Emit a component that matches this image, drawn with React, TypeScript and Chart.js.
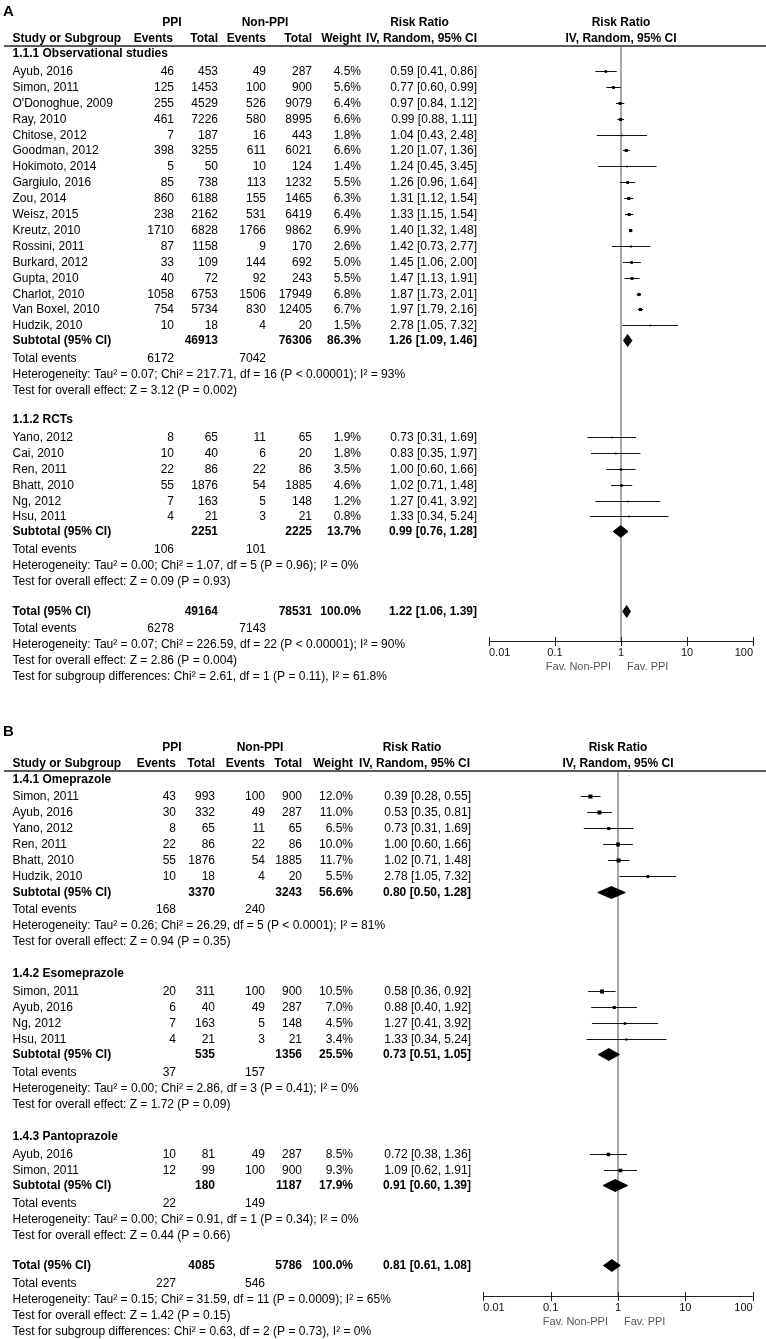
import React, { useEffect, useRef } from "react";
import { Chart, registerables } from "chart.js";
Chart.register(...registerables);

const FONT = '"Liberation Sans", Arial, Helvetica, sans-serif';

// ---------------- Panel A data ----------------
const A_OBS_HEADING = "1.1.1 Observational studies";
const A_OBS_STUDIES = [
  "Ayub, 2016", "Simon, 2011", "O'Donoghue, 2009", "Ray, 2010", "Chitose, 2012",
  "Goodman, 2012", "Hokimoto, 2014", "Gargiulo, 2016", "Zou, 2014", "Weisz, 2015",
  "Kreutz, 2010", "Rossini, 2011", "Burkard, 2012", "Gupta, 2010", "Charlot, 2010",
  "Van Boxel, 2010", "Hudzik, 2010",
];
const A_OBS_COUNTS = [
  [46, 453, 49, 287], [125, 1453, 100, 900], [255, 4529, 526, 9079], [461, 7226, 580, 8995],
  [7, 187, 16, 443], [398, 3255, 611, 6021], [5, 50, 10, 124], [85, 738, 113, 1232],
  [860, 6188, 155, 1465], [238, 2162, 531, 6419], [1710, 6828, 1766, 9862], [87, 1158, 9, 170],
  [33, 109, 144, 692], [40, 72, 92, 243], [1058, 6753, 1506, 17949], [754, 5734, 830, 12405],
  [10, 18, 4, 20],
];
const A_OBS_WEIGHTS = [4.5, 5.6, 6.4, 6.6, 1.8, 6.6, 1.4, 5.5, 6.3, 6.4, 6.9, 2.6, 5.0, 5.5, 6.8, 6.7, 1.5];
const A_OBS_RR = [
  [0.59, 0.41, 0.86], [0.77, 0.6, 0.99], [0.97, 0.84, 1.12], [0.99, 0.88, 1.11], [1.04, 0.43, 2.48],
  [1.2, 1.07, 1.36], [1.24, 0.45, 3.45], [1.26, 0.96, 1.64], [1.31, 1.12, 1.54], [1.33, 1.15, 1.54],
  [1.4, 1.32, 1.48], [1.42, 0.73, 2.77], [1.45, 1.06, 2.0], [1.47, 1.13, 1.91], [1.87, 1.73, 2.01],
  [1.97, 1.79, 2.16], [2.78, 1.05, 7.32],
];
const A_OBS_SUB_TOTALS = [46913, 76306];
const A_OBS_SUB_WEIGHT = 86.3;
const A_OBS_SUB_RR = [1.26, 1.09, 1.46];
const A_OBS_EVENTS = [6172, 7042];
const A_OBS_NOTES = [
  "Heterogeneity: Tau\u00b2 = 0.07; Chi\u00b2 = 217.71, df = 16 (P < 0.00001); I\u00b2 = 93%",
  "Test for overall effect: Z = 3.12 (P = 0.002)",
];

const A_RCT_HEADING = "1.1.2 RCTs";
const A_RCT_STUDIES = ["Yano, 2012", "Cai, 2010", "Ren, 2011", "Bhatt, 2010", "Ng, 2012", "Hsu, 2011"];
const A_RCT_COUNTS = [
  [8, 65, 11, 65], [10, 40, 6, 20], [22, 86, 22, 86], [55, 1876, 54, 1885], [7, 163, 5, 148], [4, 21, 3, 21],
];
const A_RCT_WEIGHTS = [1.9, 1.8, 3.5, 4.6, 1.2, 0.8];
const A_RCT_RR = [
  [0.73, 0.31, 1.69], [0.83, 0.35, 1.97], [1.0, 0.6, 1.66], [1.02, 0.71, 1.48], [1.27, 0.41, 3.92], [1.33, 0.34, 5.24],
];
const A_RCT_SUB_TOTALS = [2251, 2225];
const A_RCT_SUB_WEIGHT = 13.7;
const A_RCT_SUB_RR = [0.99, 0.76, 1.28];
const A_RCT_EVENTS = [106, 101];
const A_RCT_NOTES = [
  "Heterogeneity: Tau\u00b2 = 0.00; Chi\u00b2 = 1.07, df = 5 (P = 0.96); I\u00b2 = 0%",
  "Test for overall effect: Z = 0.09 (P = 0.93)",
];

const A_TOTALS = [49164, 78531];
const A_TOTAL_RR = [1.22, 1.06, 1.39];
const A_TOTAL_EVENTS = [6278, 7143];
const A_TOTAL_NOTES = [
  "Heterogeneity: Tau\u00b2 = 0.07; Chi\u00b2 = 226.59, df = 22 (P < 0.00001); I\u00b2 = 90%",
  "Test for overall effect: Z = 2.86 (P = 0.004)",
  "Test for subgroup differences: Chi\u00b2 = 2.61, df = 1 (P = 0.11), I\u00b2 = 61.8%",
];

// ---------------- Panel B data ----------------
const B_OME_HEADING = "1.4.1 Omeprazole";
const B_OME_STUDIES = ["Simon, 2011", "Ayub, 2016", "Yano, 2012", "Ren, 2011", "Bhatt, 2010", "Hudzik, 2010"];
const B_OME_COUNTS = [
  [43, 993, 100, 900], [30, 332, 49, 287], [8, 65, 11, 65], [22, 86, 22, 86], [55, 1876, 54, 1885], [10, 18, 4, 20],
];
const B_OME_WEIGHTS = [12.0, 11.0, 6.5, 10.0, 11.7, 5.5];
const B_OME_RR = [
  [0.39, 0.28, 0.55], [0.53, 0.35, 0.81], [0.73, 0.31, 1.69], [1.0, 0.6, 1.66], [1.02, 0.71, 1.48], [2.78, 1.05, 7.32],
];
const B_OME_SUB_TOTALS = [3370, 3243];
const B_OME_SUB_WEIGHT = 56.6;
const B_OME_SUB_RR = [0.8, 0.5, 1.28];
const B_OME_EVENTS = [168, 240];
const B_OME_NOTES = [
  "Heterogeneity: Tau\u00b2 = 0.26; Chi\u00b2 = 26.29, df = 5 (P < 0.0001); I\u00b2 = 81%",
  "Test for overall effect: Z = 0.94 (P = 0.35)",
];

const B_ESO_HEADING = "1.4.2 Esomeprazole";
const B_ESO_STUDIES = ["Simon, 2011", "Ayub, 2016", "Ng, 2012", "Hsu, 2011"];
const B_ESO_COUNTS = [[20, 311, 100, 900], [6, 40, 49, 287], [7, 163, 5, 148], [4, 21, 3, 21]];
const B_ESO_WEIGHTS = [10.5, 7.0, 4.5, 3.4];
const B_ESO_RR = [[0.58, 0.36, 0.92], [0.88, 0.4, 1.92], [1.27, 0.41, 3.92], [1.33, 0.34, 5.24]];
const B_ESO_SUB_TOTALS = [535, 1356];
const B_ESO_SUB_WEIGHT = 25.5;
const B_ESO_SUB_RR = [0.73, 0.51, 1.05];
const B_ESO_EVENTS = [37, 157];
const B_ESO_NOTES = [
  "Heterogeneity: Tau\u00b2 = 0.00; Chi\u00b2 = 2.86, df = 3 (P = 0.41); I\u00b2 = 0%",
  "Test for overall effect: Z = 1.72 (P = 0.09)",
];

const B_PAN_HEADING = "1.4.3 Pantoprazole";
const B_PAN_STUDIES = ["Ayub, 2016", "Simon, 2011"];
const B_PAN_COUNTS = [[10, 81, 49, 287], [12, 99, 100, 900]];
const B_PAN_WEIGHTS = [8.5, 9.3];
const B_PAN_RR = [[0.72, 0.38, 1.36], [1.09, 0.62, 1.91]];
const B_PAN_SUB_TOTALS = [180, 1187];
const B_PAN_SUB_WEIGHT = 17.9;
const B_PAN_SUB_RR = [0.91, 0.6, 1.39];
const B_PAN_EVENTS = [22, 149];
const B_PAN_NOTES = [
  "Heterogeneity: Tau\u00b2 = 0.00; Chi\u00b2 = 0.91, df = 1 (P = 0.34); I\u00b2 = 0%",
  "Test for overall effect: Z = 0.44 (P = 0.66)",
];

const B_TOTALS = [4085, 5786];
const B_TOTAL_RR = [0.81, 0.61, 1.08];
const B_TOTAL_EVENTS = [227, 546];
const B_TOTAL_NOTES = [
  "Heterogeneity: Tau\u00b2 = 0.15; Chi\u00b2 = 31.59, df = 11 (P = 0.0009); I\u00b2 = 65%",
  "Test for overall effect: Z = 1.42 (P = 0.15)",
  "Test for subgroup differences: Chi\u00b2 = 0.63, df = 2 (P = 0.73), I\u00b2 = 0%",
];

const X_TICKS = [0.01, 0.1, 1, 10, 100];
const X_TICK_LABELS = ["0.01", "0.1", "1", "10", "100"];
const FAV_LEFT = "Fav. Non-PPI";
const FAV_RIGHT = "Fav. PPI";

// ---------------- layout / config ----------------
type Group = {
  heading: string; studies: string[]; counts: number[][]; weights: number[]; rr: number[][];
  subTotals: number[]; subWeight: number; subRR: number[]; events: number[]; notes: string[];
};
type Overall = { totals: number[]; rr: number[]; events: number[]; notes: string[] };
type Cols = {
  ev1: number; tot1: number; ev2: number; tot2: number; wt: number; ci: number;
  ppiHdr: number; nonHdr: number; rrHdr: number;
  hEv1: number; hTot1: number; hEv2: number; hTot2: number; hWt: number; hCi: number;
};
type PanelCfg = {
  letter: string; height: number; groups: Group[]; overall: Overall; cols: Cols;
  pad: { left: number; right: number; top: number; bottom: number };
  yMax: number; gapGroup: number; gapTotal: number; letterSlot: number;
};

const PANEL_A: PanelCfg = {
  letter: "A",
  height: 700,
  groups: [
    { heading: A_OBS_HEADING, studies: A_OBS_STUDIES, counts: A_OBS_COUNTS, weights: A_OBS_WEIGHTS, rr: A_OBS_RR,
      subTotals: A_OBS_SUB_TOTALS, subWeight: A_OBS_SUB_WEIGHT, subRR: A_OBS_SUB_RR, events: A_OBS_EVENTS, notes: A_OBS_NOTES },
    { heading: A_RCT_HEADING, studies: A_RCT_STUDIES, counts: A_RCT_COUNTS, weights: A_RCT_WEIGHTS, rr: A_RCT_RR,
      subTotals: A_RCT_SUB_TOTALS, subWeight: A_RCT_SUB_WEIGHT, subRR: A_RCT_SUB_RR, events: A_RCT_EVENTS, notes: A_RCT_NOTES },
  ],
  overall: { totals: A_TOTALS, rr: A_TOTAL_RR, events: A_TOTAL_EVENTS, notes: A_TOTAL_NOTES },
  cols: { ev1: 174, tot1: 218, ev2: 266, tot2: 312, wt: 361, ci: 477, ppiHdr: 172, nonHdr: 265, rrHdr: 419.5,
    hEv1: 173, hTot1: 218, hEv2: 266, hTot2: 312, hWt: 361, hCi: 477 },
  pad: { left: 489, right: 13, top: 46, bottom: 59 },
  yMax: 37.42, gapGroup: 1.88, gapTotal: 1.9, letterSlot: -2.14,
};

const PANEL_B: PanelCfg = {
  letter: "B",
  height: 639,
  groups: [
    { heading: B_OME_HEADING, studies: B_OME_STUDIES, counts: B_OME_COUNTS, weights: B_OME_WEIGHTS, rr: B_OME_RR,
      subTotals: B_OME_SUB_TOTALS, subWeight: B_OME_SUB_WEIGHT, subRR: B_OME_SUB_RR, events: B_OME_EVENTS, notes: B_OME_NOTES },
    { heading: B_ESO_HEADING, studies: B_ESO_STUDIES, counts: B_ESO_COUNTS, weights: B_ESO_WEIGHTS, rr: B_ESO_RR,
      subTotals: B_ESO_SUB_TOTALS, subWeight: B_ESO_SUB_WEIGHT, subRR: B_ESO_SUB_RR, events: B_ESO_EVENTS, notes: B_ESO_NOTES },
    { heading: B_PAN_HEADING, studies: B_PAN_STUDIES, counts: B_PAN_COUNTS, weights: B_PAN_WEIGHTS, rr: B_PAN_RR,
      subTotals: B_PAN_SUB_TOTALS, subWeight: B_PAN_SUB_WEIGHT, subRR: B_PAN_SUB_RR, events: B_PAN_EVENTS, notes: B_PAN_NOTES },
  ],
  overall: { totals: B_TOTALS, rr: B_TOTAL_RR, events: B_TOTAL_EVENTS, notes: B_TOTAL_NOTES },
  cols: { ev1: 176, tot1: 215, ev2: 265, tot2: 302, wt: 353, ci: 471, ppiHdr: 172, nonHdr: 260, rrHdr: 412,
    hEv1: 176, hTot1: 215, hEv2: 265, hTot2: 302, hWt: 353, hCi: 470 },
  pad: { left: 483.3, right: 13.3, top: 71, bottom: 43 },
  yMax: 32.71, gapGroup: 2.0, gapTotal: 1.9, letterSlot: -2.45,
};

type Row = { kind: string; slot: number; [k: string]: any };

function fmtRR(r: number[]) {
  return `${r[0].toFixed(2)} [${r[1].toFixed(2)}, ${r[2].toFixed(2)}]`;
}

function layoutRows(cfg: PanelCfg): Row[] {
  const rows: Row[] = [];
  // snap each row onto a pixel centre so 1px CI lines are crisp
  const top = cfg.pad.top;
  const unit = (cfg.height - cfg.pad.bottom - cfg.pad.top) / cfg.yMax;
  const snap = (s: number) => (Math.floor(top + s * unit) + 0.5 - top) / unit;
  let s = 0.5;
  cfg.groups.forEach((g, gi) => {
    if (gi > 0) s += cfg.gapGroup;
    rows.push({ kind: "heading", slot: snap(s), text: g.heading });
    s += 1.1;
    g.studies.forEach((name, i) => {
      if (i > 0) s += 1;
      rows.push({ kind: "study", slot: snap(s), name, counts: g.counts[i], weight: g.weights[i], rr: g.rr[i] });
    });
    s += 0.94;
    rows.push({ kind: "subtotal", slot: snap(s), label: "Subtotal (95% CI)", totals: g.subTotals, weight: g.subWeight, rr: g.subRR });
    s += 1.1;
    rows.push({ kind: "events", slot: snap(s), events: g.events });
    g.notes.forEach((n) => {
      s += 1;
      rows.push({ kind: "note", slot: snap(s), text: n });
    });
  });
  s += cfg.gapTotal;
  rows.push({ kind: "subtotal", slot: snap(s), label: "Total (95% CI)", totals: cfg.overall.totals, weight: 100, rr: cfg.overall.rr });
  s += 1.1;
  rows.push({ kind: "events", slot: snap(s), events: cfg.overall.events });
  cfg.overall.notes.forEach((n) => {
    s += 1;
    rows.push({ kind: "note", slot: snap(s), text: n });
  });
  return rows;
}

function buildDatasets(rows: Row[]) {
  const ci: any[] = [];
  const pts: any[] = [];
  const radii: number[] = [];
  const datasets: any[] = [];
  rows.forEach((r) => {
    if (r.kind === "study") {
      ci.push({ x: r.rr[1], y: r.slot }, { x: r.rr[2], y: r.slot }, { x: NaN, y: NaN });
      pts.push({ x: r.rr[0], y: r.slot });
      const side = Math.max(1.7, 1.2 * Math.sqrt(r.weight));
      radii.push(side / 1.4142);
    }
  });
  datasets.push({
    data: ci, showLine: true, spanGaps: false, borderColor: "#111", borderWidth: 1,
    pointRadius: 0, fill: false, tension: 0, order: 2,
  });
  datasets.push({
    data: pts, showLine: false, pointStyle: "rect", pointRadius: radii,
    backgroundColor: "#000", borderColor: "#000", borderWidth: 0, order: 1,
  });
  const h = 0.37;
  rows.forEach((r) => {
    if (r.kind === "subtotal") {
      const [e, lo, hi] = r.rr;
      datasets.push({
        data: [
          { x: lo, y: r.slot }, { x: e, y: r.slot - h }, { x: hi, y: r.slot },
          { x: e, y: r.slot + h }, { x: lo, y: r.slot },
        ],
        showLine: true, fill: "shape", backgroundColor: "#000", borderColor: "#000",
        borderWidth: 1, pointRadius: 0, tension: 0, order: 0,
      });
    }
  });
  return datasets;
}

function makePlugins(cfg: PanelCfg, rows: Row[]) {
  const refLine = {
    id: "refLine",
    beforeDatasetsDraw(chart: any) {
      const { ctx, chartArea, scales } = chart;
      const x1 = scales.x.getPixelForValue(1);
      ctx.save();
      ctx.strokeStyle = "#8a8a8a";
      ctx.lineWidth = 1.5;
      ctx.beginPath();
      ctx.moveTo(x1, chartArea.top);
      ctx.lineTo(x1, chartArea.bottom);
      ctx.stroke();
      ctx.restore();
    },
  };
  const textPlugin = {
    id: "forestText",
    afterDraw(chart: any) {
      const { ctx, chartArea, scales } = chart;
      const Y = (s: number) => scales.y.getPixelForValue(s);
      const X = (v: number) => scales.x.getPixelForValue(v);
      const c = cfg.cols;
      ctx.save();
      ctx.textBaseline = "middle";
      const t = (str: string, px: number, py: number, align: string, bold = false, size = 12, color = "#000") => {
        ctx.font = `${bold ? "bold " : ""}${size}px ${FONT}`;
        ctx.textAlign = align;
        ctx.fillStyle = color;
        ctx.fillText(str, px, py);
      };
      // letter
      t(cfg.letter, 3, Y(cfg.letterSlot), "left", true, 15);
      // headers
      const h1 = Y(-1.47);
      const h2 = Y(-0.47);
      t("PPI", c.ppiHdr, h1, "center", true);
      t("Non-PPI", c.nonHdr, h1, "center", true);
      t("Risk Ratio", c.rrHdr, h1, "center", true);
      t("Risk Ratio", X(1), h1, "center", true);
      t("Study or Subgroup", 12.5, h2, "left", true);
      t("Events", c.hEv1, h2, "right", true);
      t("Total", c.hTot1, h2, "right", true);
      t("Events", c.hEv2, h2, "right", true);
      t("Total", c.hTot2, h2, "right", true);
      t("Weight", c.hWt, h2, "right", true);
      t("IV, Random, 95% CI", c.hCi, h2, "right", true);
      t("IV, Random, 95% CI", X(1), h2, "center", true);
      // header rule
      ctx.strokeStyle = "#5a5a5a";
      ctx.lineWidth = 2;
      ctx.beginPath();
      ctx.moveTo(4, chartArea.top);
      ctx.lineTo(chart.width, chartArea.top);
      ctx.stroke();
      // rows
      rows.forEach((r) => {
        const py = Y(r.slot);
        if (r.kind === "heading") {
          t(r.text, 12.5, py, "left", true);
        } else if (r.kind === "study") {
          t(r.name, 12.5, py, "left");
          t(String(r.counts[0]), c.ev1, py, "right");
          t(String(r.counts[1]), c.tot1, py, "right");
          t(String(r.counts[2]), c.ev2, py, "right");
          t(String(r.counts[3]), c.tot2, py, "right");
          t(`${r.weight.toFixed(1)}%`, c.wt, py, "right");
          t(fmtRR(r.rr), c.ci, py, "right");
        } else if (r.kind === "subtotal") {
          t(r.label, 12.5, py, "left", true);
          t(String(r.totals[0]), c.tot1, py, "right", true);
          t(String(r.totals[1]), c.tot2, py, "right", true);
          t(`${r.weight.toFixed(1)}%`, c.wt, py, "right", true);
          t(fmtRR(r.rr), c.ci, py, "right", true);
        } else if (r.kind === "events") {
          t("Total events", 12.5, py, "left");
          t(String(r.events[0]), c.ev1, py, "right");
          t(String(r.events[1]), c.ev2, py, "right");
        } else if (r.kind === "note") {
          t(r.text, 12.5, py, "left");
        }
      });
      // x axis
      const ay = Math.round(chartArea.bottom);
      ctx.strokeStyle = "#222";
      ctx.lineWidth = 1;
      ctx.beginPath();
      ctx.moveTo(X(X_TICKS[0]), ay + 0.5);
      ctx.lineTo(X(X_TICKS[X_TICKS.length - 1]), ay + 0.5);
      X_TICKS.forEach((v) => {
        const px = Math.round(X(v)) + 0.5;
        ctx.moveTo(px, ay - 4);
        ctx.lineTo(px, ay + 5);
      });
      ctx.stroke();
      X_TICKS.forEach((v, i) => {
        const align = i === 0 ? "left" : i === X_TICKS.length - 1 ? "right" : "center";
        t(X_TICK_LABELS[i], X(v), ay + 12, align, false, 11, "#111");
      });
      t(FAV_LEFT, X(1) - 10, ay + 26, "right", false, 11, "#555");
      t(FAV_RIGHT, X(1) + 6, ay + 26, "left", false, 11, "#555");
      ctx.restore();
    },
  };
  return [refLine, textPlugin];
}

function ForestPanel({ cfg }: { cfg: PanelCfg }) {
  const ref = useRef<HTMLCanvasElement | null>(null);
  useEffect(() => {
    if (!ref.current) return;
    const rows = layoutRows(cfg);
    const chart = new Chart(ref.current, {
      type: "scatter",
      data: { datasets: buildDatasets(rows) },
      options: {
        responsive: false,
        animation: false,
        devicePixelRatio: 1,
        events: [],
        layout: { padding: cfg.pad },
        scales: {
          x: { type: "logarithmic", min: 0.01, max: 100, display: false },
          y: { type: "linear", min: 0, max: cfg.yMax, reverse: true, display: false },
        },
        plugins: { legend: { display: false }, tooltip: { enabled: false } },
      } as any,
      plugins: makePlugins(cfg, rows) as any,
    });
    return () => chart.destroy();
  }, [cfg]);
  return (
    <canvas
      ref={ref}
      width={766}
      height={cfg.height}
      style={{ display: "block", width: 766, height: cfg.height }}
    />
  );
}

export default function App() {
  useEffect(() => {
    document.body.style.margin = "0";
    document.body.style.background = "#fff";
  }, []);
  return (
    <div style={{ width: 766, background: "#fff" }}>
      <ForestPanel cfg={PANEL_A} />
      <ForestPanel cfg={PANEL_B} />
    </div>
  );
}
